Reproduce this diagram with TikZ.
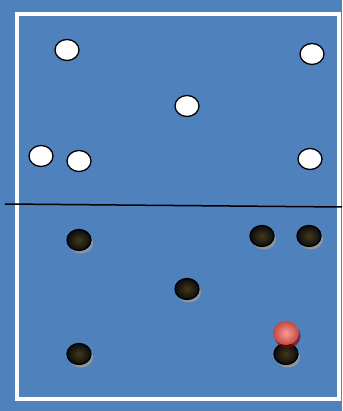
\documentclass[tikz,border=0pt]{standalone}
\usepackage{xcolor}
\usepackage{tikz}
\usetikzlibrary{shapes.geometric,shadows}
\definecolor{court}{RGB}{79,129,189}
\definecolor{balcore}{RGB}{70,56,20}
\definecolor{redball}{RGB}{222,88,76}

\begin{document}
\begin{tikzpicture}[x=1pt,y=-1pt,
  white player/.style={ellipse,draw=black,line width=1.3pt,fill=white,minimum width=24pt,minimum height=21pt,inner sep=0pt},
  dark player/.style={ellipse,draw=black,line width=1.3pt,inner color=balcore,outer color=black!90!court,
    minimum width=24pt,minimum height=21pt,inner sep=0pt,
    drop shadow={shadow xshift=2pt,shadow yshift=-3pt,fill=gray!80,opacity=.9}},
  game ball/.style={ellipse,inner color=red!40!white,outer color=redball!85!black,
    minimum width=26pt,minimum height=24pt,inner sep=0pt,
    drop shadow={shadow xshift=1.5pt,shadow yshift=-3pt,fill=red!55!black,opacity=.7}}]
  % court
  \fill[court] (0,0) rectangle (342,411);
  \draw[white,line width=4pt] (17,14) rectangle (339,399);
  \coordinate (netL) at (5,204);
  \coordinate (netR) at (342,207);
  \draw[line width=1.5pt] (netL) -- (netR);
  % one side
  \node[white player] (w1) at (67,50) {};
  \node[white player] (w2) at (312,54) {};
  \node[white player] (w3) at (187,106) {};
  \node[white player] (w4) at (41,156) {};
  \node[white player] (w5) at (79,161) {};
  \node[white player] (w6) at (310,159) {};
  % other side
  \node[dark player] (d1) at (79,240) {};
  \node[dark player] (d2) at (262,236) {};
  \node[dark player] (d3) at (309,236) {};
  \node[dark player] (d4) at (187,289) {};
  \node[dark player] (d5) at (79,354) {};
  \node[dark player] (d6) at (286,354) {};
  \node[game ball] (ball) at (286,333) {};
\end{tikzpicture}
\end{document}
